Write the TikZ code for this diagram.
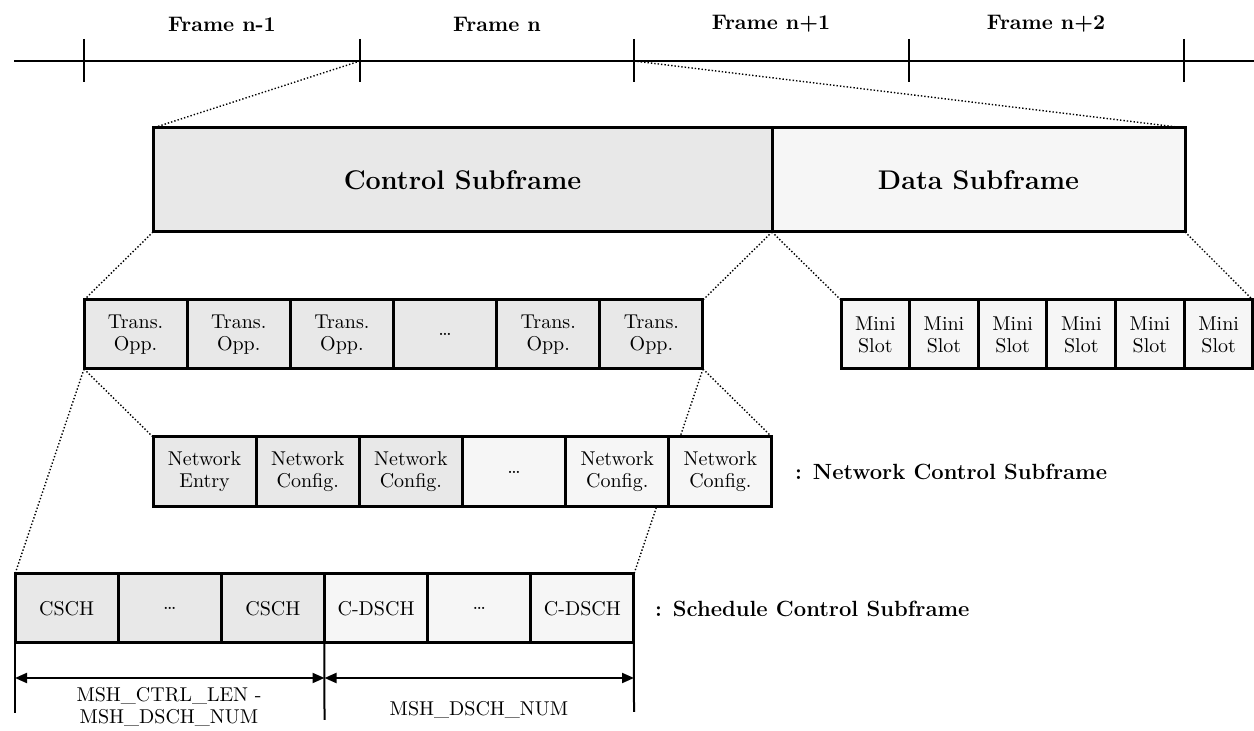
\documentclass[tikz,border=0pt]{standalone}
\usetikzlibrary{arrows.meta,backgrounds}
\definecolor{darkfill}{HTML}{E8E8E8}
\definecolor{lightfill}{HTML}{F6F6F6}
\begin{document}
\begin{tikzpicture}[x=0.5pt,y=-0.5pt,
  box/.style={draw,line width=1.5pt,outer sep=0pt,inner sep=0pt,align=center},
  cell/.style={box,minimum height=34.5pt,minimum width=51.58pt,font=\fontsize{10}{11}\selectfont},
  mini/.style={cell,minimum width=34.33pt},
  dk/.style={fill=darkfill},
  lt/.style={fill=lightfill},
  zoomline/.style={densely dotted,line width=0.7pt},
  bigtitle/.style={font=\bfseries\fontsize{13.5}{16}\selectfont},
  framelabel/.style={font=\bfseries\fontsize{10.5}{12}\selectfont},
  sidelabel/.style={anchor=west,font=\bfseries\fontsize{11}{13}\selectfont},
  smalllabel/.style={align=center,font=\fontsize{10}{11}\selectfont},
  dimarrow/.style={line width=1pt,{Triangle[length=6pt,width=5pt]}-{Triangle[length=6pt,width=5pt]}},
  extline/.style={line width=1pt}
]
\useasboundingbox (0,0) rectangle (1254,731);

% timeline
\coordinate (L) at (14,61);
\coordinate (R) at (1254,61);
\draw[line width=1.2pt] (L) -- (R);
\foreach \x [count=\i from 0] in {84,360,634,909,1184} {
  \coordinate (k\i) at (\x,61);
  \coordinate (ka\i) at (\x,39);
  \coordinate (kb\i) at (\x,82);
  \draw[line width=1.1pt] (ka\i) -- (kb\i);
}
\node[framelabel] (f1) at (222,24) {Frame n-1};
\node[framelabel] (f2) at (497,24) {Frame n};
\node[framelabel] (f3) at (771,24) {Frame n+1};
\node[framelabel] (f4) at (1046,24) {Frame n+2};

% main subframes
\node[box,dk,bigtitle,minimum width=309.5pt,minimum height=52pt,anchor=north west] (ctrl) at (153,128) {Control Subframe};
\node[box,lt,bigtitle,minimum width=206.5pt,minimum height=52pt,anchor=north west] (data) at (ctrl.north east) {Data Subframe};

% transmission opportunities
\node[cell,dk,anchor=north west] (t1) at (84,300) {Trans.\\Opp.};
\node[cell,dk,anchor=north west] (t2) at (t1.north east) {Trans.\\Opp.};
\node[cell,dk,anchor=north west] (t3) at (t2.north east) {Trans.\\Opp.};
\node[cell,dk,anchor=north west] (t4) at (t3.north east) {\dots};
\node[cell,dk,anchor=north west] (t5) at (t4.north east) {Trans.\\Opp.};
\node[cell,dk,anchor=north west] (t6) at (t5.north east) {Trans.\\Opp.};

% mini slots
\node[mini,lt,anchor=north west] (m1) at (841,300) {Mini\\Slot};
\node[mini,lt,anchor=north west] (m2) at (m1.north east) {Mini\\Slot};
\node[mini,lt,anchor=north west] (m3) at (m2.north east) {Mini\\Slot};
\node[mini,lt,anchor=north west] (m4) at (m3.north east) {Mini\\Slot};
\node[mini,lt,anchor=north west] (m5) at (m4.north east) {Mini\\Slot};
\node[mini,lt,anchor=north west] (m6) at (m5.north east) {Mini\\Slot};

% network control subframe
\node[cell,dk,minimum height=35pt,anchor=north west] (n1) at (153,437) {Network\\Entry};
\node[cell,dk,minimum height=35pt,anchor=north west] (n2) at (n1.north east) {Network\\Config.};
\node[cell,dk,minimum height=35pt,anchor=north west] (n3) at (n2.north east) {Network\\Config.};
\node[cell,lt,minimum height=35pt,anchor=north west] (n4) at (n3.north east) {\dots};
\node[cell,lt,minimum height=35pt,anchor=north west] (n5) at (n4.north east) {Network\\Config.};
\node[cell,lt,minimum height=35pt,anchor=north west] (n6) at (n5.north east) {Network\\Config.};
\node[sidelabel] (nlab) at (788,472) {: Network Control Subframe};

% schedule control subframe
\node[cell,dk,anchor=north west] (s1) at (15,574) {CSCH};
\node[cell,dk,anchor=north west] (s2) at (s1.north east) {\dots};
\node[cell,dk,anchor=north west] (s3) at (s2.north east) {CSCH};
\node[cell,lt,anchor=north west] (s4) at (s3.north east) {C-DSCH};
\node[cell,lt,anchor=north west] (s5) at (s4.north east) {\dots};
\node[cell,lt,anchor=north west] (s6) at (s5.north east) {C-DSCH};
\node[sidelabel] (slab) at (648,609) {: Schedule Control Subframe};

% zoom lines (behind boxes)
\begin{pgfonlayer}{background}
\draw[zoomline] (k1) -- (ctrl.north west);
\draw[zoomline] (k2) -- (data.north east);
\draw[zoomline] (ctrl.south west) -- (t1.north west);
\draw[zoomline] (ctrl.south east) -- (t6.north east);
\draw[zoomline] (data.south west) -- (m1.north west);
\draw[zoomline] (data.south east) -- (m6.north east);
\draw[zoomline] (t1.south west) -- (n1.north west);
\draw[zoomline] (t6.south east) -- (n6.north east);
\draw[zoomline] (t1.south west) -- (s1.north west);
\draw[zoomline] (t6.south east) -- (s6.north east);
\end{pgfonlayer}

% dimension lines
\coordinate (e0) at (15,713);
\coordinate (e1) at (324.5,720);
\coordinate (e2) at (634,712);
\draw[extline] (s1.south west) -- (e0);
\draw[extline] (s3.south east) -- (e1);
\draw[extline] (s6.south east) -- (e2);
\coordinate (a0) at (15,678);
\coordinate (a1) at (324.5,678);
\coordinate (a2) at (634,678);
\draw[dimarrow] (a0) -- (a1);
\draw[dimarrow] (a1) -- (a2);
\node[smalllabel] (d1) at (169,707) {MSH\_CTRL\_LEN -\\MSH\_DSCH\_NUM};
\node[smalllabel] (d2) at (479,710) {MSH\_DSCH\_NUM};
\end{tikzpicture}
\end{document}
